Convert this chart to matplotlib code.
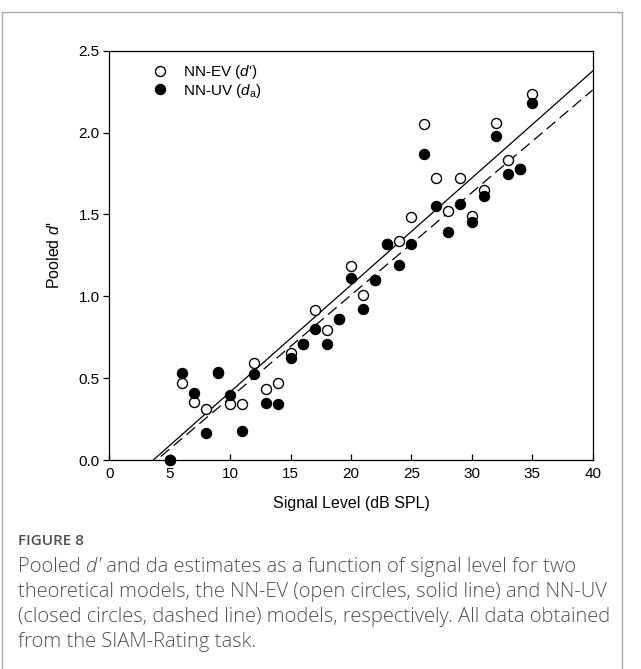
import numpy as np
import matplotlib
matplotlib.use("Agg")
from matplotlib import pyplot as plt
from matplotlib.lines import Line2D

plt.rcParams['font.family'] = ['Liberation Sans', 'DejaVu Sans']
plt.rcParams['mathtext.fontset'] = 'custom'
plt.rcParams['mathtext.rm'] = 'Liberation Sans'
plt.rcParams['mathtext.it'] = 'Liberation Sans:italic'

# signal levels (dB SPL)
levels = [5, 6, 7, 8, 9, 10, 11, 12, 13, 14, 15, 16, 17, 18, 19, 20,
          21, 22, 23, 24, 25, 26, 27, 28, 29, 30, 31, 32, 33, 34, 35]

# NN-EV model, pooled d' (open circles)
ev_dprime = [0.00, 0.47, 0.355, 0.31, 0.53, 0.34, 0.345, 0.595, 0.435, 0.47,
             0.655, 0.71, 0.915, 0.795, 0.86, 1.185, 1.01, 1.10, 1.32, 1.34,
             1.485, 2.05, 1.725, 1.52, 1.72, 1.49, 1.65, 2.06, 1.835, 1.78, 2.235]

# NN-UV model, pooled da (closed circles)
uv_da = [0.00, 0.53, 0.41, 0.165, 0.54, 0.40, 0.18, 0.525, 0.35, 0.34,
         0.625, 0.71, 0.80, 0.71, 0.86, 1.11, 0.92, 1.10, 1.32, 1.19,
         1.32, 1.87, 1.55, 1.395, 1.565, 1.455, 1.61, 1.98, 1.745, 1.78, 2.18]

# regression lines (slope, intercept)
ev_fit = (0.06535, -0.238)
uv_fit = (0.06264, -0.2455)

caption_title = "FIGURE 8"
caption_lines = [
    "theoretical models, the NN-EV (open circles, solid line) and NN-UV",
    "(closed circles, dashed line) models, respectively. All data obtained",
    "from the SIAM-Rating task.",
]

W, H = 641, 669
fig = plt.figure(figsize=(W / 100, H / 100), dpi=100)
ax = fig.add_axes([109.3 / W, 1 - 460 / H, 483.4 / W, 409.3 / H])

xs = np.array([0, 40])
ax.plot(xs, ev_fit[0] * xs + ev_fit[1], color='black', lw=0.9)
ax.plot(xs, uv_fit[0] * xs + uv_fit[1], color='black', lw=0.9,
        dashes=(9, 4.5))

ax.plot(levels, ev_dprime, 'o', ms=7.2, mfc='white', mec='black', mew=1.0,
        clip_on=False, zorder=3)
ax.plot(levels, uv_da, 'o', ms=7.2, mfc='black', mec='black',
        clip_on=False, zorder=4)

ax.set_xlim(0, 40)
ax.set_ylim(0, 2.5)
ax.set_xticks(np.arange(0, 41, 5))
ax.set_yticks(np.arange(0, 2.51, 0.5))
ax.set_yticklabels([f"{v:.1f}" for v in np.arange(0, 2.51, 0.5)])
ax.tick_params(axis='x', direction='in', length=4, width=0.9,
               labelsize=11, pad=5)
ax.tick_params(axis='y', direction='out', length=4, width=0.9,
               labelsize=11, pad=3)
for s in ax.spines.values():
    s.set_linewidth(0.9)

ax.set_xlabel("Signal Level (dB SPL)", fontsize=11.5, labelpad=11)
ax.set_ylabel("Pooled $d$'", fontsize=11.5, labelpad=12)

handles = [
    Line2D([], [], ls='none', marker='o', ms=7.2, mfc='white', mec='black'),
    Line2D([], [], ls='none', marker='o', ms=7.2, mfc='black', mec='black'),
]
ax.legend(handles, ["NN-EV ($d$')", "NN-UV ($d_\\mathrm{a}$)"],
          loc='upper left', bbox_to_anchor=(0.06, 0.985), frameon=False,
          fontsize=11, handletextpad=0.5, labelspacing=0.05,
          borderaxespad=0)

# page frame around the figure panel
frame = plt.Line2D([2 / W, 2 / W, 622 / W, 622 / W],
                   [0, 1 - 12 / H, 1 - 12 / H, 0],
                   transform=fig.transFigure, color='#aaaaaa', lw=1.0)
fig.add_artist(frame)

# caption
cap_color = '#505050'
cap_size = 14.5
fig.text(18 / W, 1 - 541 / H, caption_title, fontsize=11,
         fontweight='semibold', color=cap_color, family='Open Sans',
         va='center')

y1 = 1 - 567 / H
t1 = fig.text(18 / W, y1, "Pooled ", fontsize=cap_size, color=cap_color,
              family='Open Sans', fontweight='light', va='center')
fig.canvas.draw()
r = fig.canvas.get_renderer()
x2 = t1.get_window_extent(r).x1 / W
t2 = fig.text(x2, y1, "d\u2032", fontsize=cap_size, color=cap_color,
              family='Open Sans', fontweight='light', style='italic',
              va='center')
fig.canvas.draw()
x3 = t2.get_window_extent(r).x1 / W
fig.text(x3, y1, " and da estimates as a function of signal level for two",
         fontsize=cap_size, color=cap_color, family='Open Sans',
         fontweight='light', va='center')

for i, line in enumerate(caption_lines):
    fig.text(18 / W, 1 - (592 + 24.8 * i) / H, line, fontsize=cap_size,
             color=cap_color, family='Open Sans', fontweight='light',
             va='center')

fig.savefig("out.png", dpi=100)
